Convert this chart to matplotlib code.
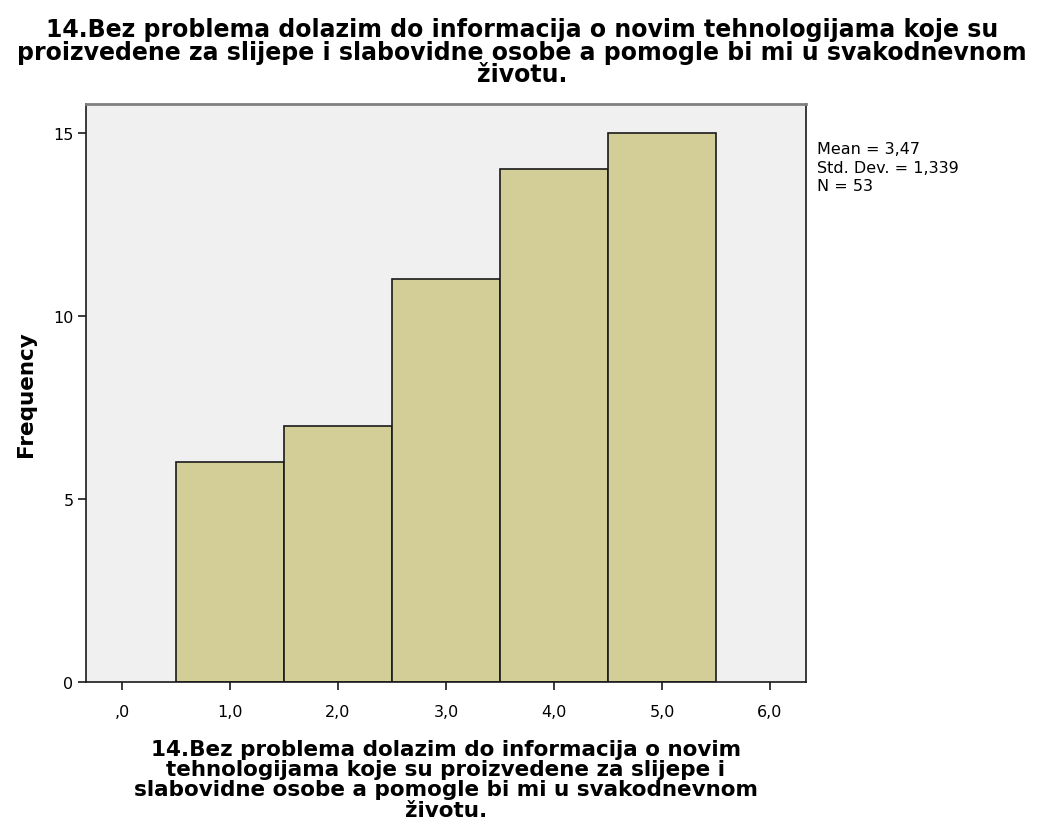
import numpy as np
import matplotlib.pyplot as plt

plt.rcParams['font.family'] = ['DejaVu Sans']

# histogram data (answer value -> count)
values = [1, 2, 3, 4, 5]
counts = [6, 7, 11, 14, 15]
xticks = [0, 1, 2, 3, 4, 5, 6]
xticklabels = [',0', '1,0', '2,0', '3,0', '4,0', '5,0', '6,0']
yticks = [0, 5, 10, 15]
stats_text = "Mean = 3,47\nStd. Dev. = 1,339\nN = 53"
title = ("14.Bez problema dolazim do informacija o novim tehnologijama koje su\n"
         "proizvedene za slijepe i slabovidne osobe a pomogle bi mi u svakodnevnom\n"
         "životu.")
xlabel = ("14.Bez problema dolazim do informacija o novim\n"
          "tehnologijama koje su proizvedene za slijepe i\n"
          "slabovidne osobe a pomogle bi mi u svakodnevnom\n"
          "životu.")

fig = plt.figure(figsize=(10.44, 8.37), dpi=100)
ax = fig.add_axes([0.0824, 0.184, 0.6896, 0.6906])
ax.set_facecolor('#f0f0f0')

ax.bar(values, counts, width=1.0, color='#d3ce97', edgecolor='#1a1a1a', linewidth=1.2)

ax.set_xlim(-0.333, 6.333)
ax.set_ylim(0, 15.79)
ax.set_xticks(xticks)
ax.set_xticklabels(xticklabels)
ax.set_yticks(yticks)
ax.tick_params(axis='both', direction='out', length=6, width=1.2, labelsize=11.5, color='#1a1a1a')
ax.tick_params(axis='x', pad=10)
ax.tick_params(axis='y', pad=3)

for s in ['left', 'bottom', 'right']:
    ax.spines[s].set_color('#1a1a1a')
    ax.spines[s].set_linewidth(1.2)
ax.spines['top'].set_color('#808080')
ax.spines['top'].set_linewidth(2)

ax.set_ylabel('Frequency', fontsize=15.5, fontweight='bold', labelpad=12)
ax.set_xlabel(xlabel, fontsize=15.5, fontweight='bold', linespacing=1.02, labelpad=14)
fig.suptitle(title, fontsize=17, fontweight='bold', linespacing=0.9, y=0.978)

fig.text(0.783, 0.830, stats_text, fontsize=11.5, va='top', ha='left', linespacing=1.3)

fig.savefig('out.png', dpi=100)
